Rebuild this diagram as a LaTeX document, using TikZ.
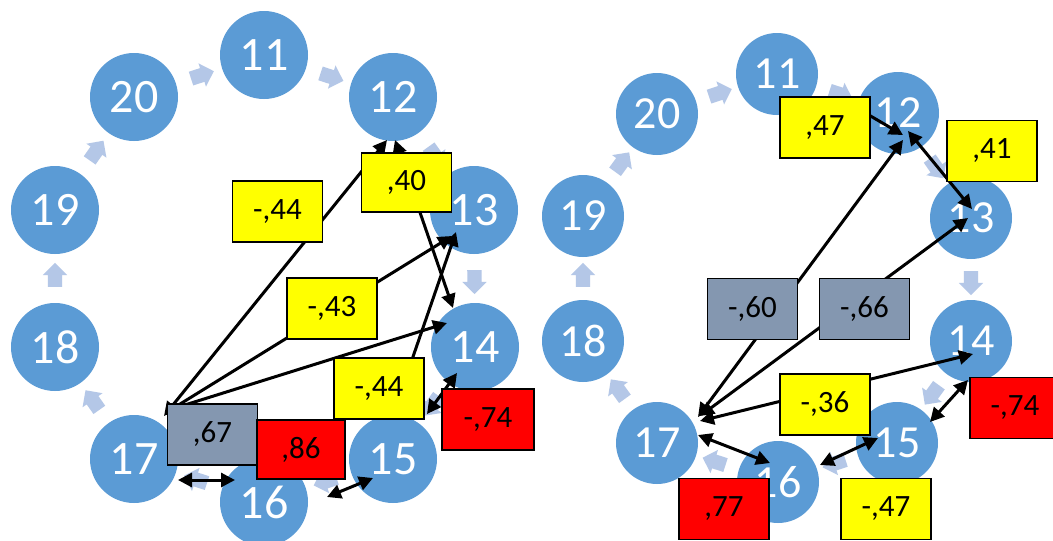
\documentclass[tikz,border=0pt]{standalone}
\usepackage{fontspec}
\setmainfont{Carlito}
\usetikzlibrary{shapes.arrows,arrows.meta,calc}
\definecolor{circblue}{HTML}{5B9BD5}
\definecolor{ringarrow}{HTML}{B4C7E7}
\definecolor{boxyellow}{HTML}{FFFF00}
\definecolor{boxred}{HTML}{FF0000}
\definecolor{boxgray}{HTML}{8497B0}
\newcommand{\circfont}{\fontsize{48pt}{48pt}\selectfont}
\newcommand{\rcircfont}{\fontsize{46pt}{46pt}\selectfont}
\newcommand{\lblfont}{\fontsize{31pt}{31pt}\selectfont}
\begin{document}
\begin{tikzpicture}[x=1pt,y=-1pt,
  circ/.style={circle,fill=circblue,minimum size=88pt,inner sep=0pt,text=white,font=\circfont},
  rcirc/.style={circ,minimum size=82pt,font=\rcircfont},
  ringarr/.style={single arrow,fill=ringarrow,minimum height=24pt,inner xsep=0pt,inner ysep=7pt,single arrow head extend=5pt},
  lbl/.style={draw=black,line width=1.3pt,minimum width=90pt,minimum height=61pt,inner sep=0pt,text=black,font=\lblfont},
  ylbl/.style={lbl,fill=boxyellow},
  rlbl/.style={lbl,fill=boxred},
  glbl/.style={lbl,fill=boxgray},
  conn/.style={line width=3pt,draw=black},
  >={Triangle[length=14pt,width=14pt]}
]
\useasboundingbox (0,0) rectangle (1053,541);
\fill[white] (0,0) rectangle (1053,541);

% ---------- left cycle ----------
\node[circ] (L11) at (264,55) {11};
\node[circ] (L12) at (393,97) {12};
\node[circ] (L13) at (474,210) {13};
\node[circ] (L14) at (475,347) {14};
\node[circ] (L15) at (393,459) {15};
\node[circ] (L16) at (264,502) {16};
\node[circ] (L17) at (134,459) {17};
\node[circ] (L18) at (55,347) {18};
\node[circ] (L19) at (55,210) {19};
\node[circ] (L20) at (134,97) {20};

% ---------- right cycle ----------
\node[rcirc] (R11) at (777,74) {11};
\node[rcirc] (R12) at (898,113) {12};
\node[rcirc] (R13) at (971,218) {13};
\node[rcirc] (R14) at (971,341) {14};
\node[rcirc] (R15) at (897,443) {15};
\node[rcirc] (R16) at (778,482) {16};
\node[rcirc] (R17) at (657,443) {17};
\node[rcirc] (R18) at (583,341) {18};
\node[rcirc] (R19) at (583,216) {19};
\node[rcirc] (R20) at (657,114) {20};

% ring arrows
\foreach \s in {L,R}{
  \foreach \a/\b in {20/11,11/12,12/13,13/14,14/15,15/16,16/17,17/18,18/19,19/20}{
    \path let \p1=($(\s\b)-(\s\a)$), \n1={atan2(\y1,\x1)} in
      ($(\s\a)!0.5!(\s\b)$) node[ringarr,rotate=\n1] (ra\s\a) {};
  }
}

% ---------- left connectors ----------
\coordinate (LH) at ($(L17)+(38,-50)$);
\draw[conn,<->] ($(L17)+(30,-43)$) -- ($(L12)+(-6,43)$);
\draw[conn,->] (LH) -- ($(L13)+(-22,26)$);
\draw[conn,->] (LH) -- ($(L14)+(-28,-24)$);
\draw[conn,<->] ($(L12)+(2,43)$) -- ($(L14)+(-22,-39)$);
\draw[conn,->] (L15.north) -- ($(L13)+(-18,22)$);
\draw[conn,<->] ($(L15)+(34,-45)$) -- ($(L14)+(-18,26)$);
\draw[conn,<->] ($(L17)+(44,21)$) -- ($(L16)+(-29,-22)$);
\draw[conn,<->] ($(L16)+(63,-5)$) -- ($(L15)+(-20,19)$);

% ---------- right connectors ----------
\coordinate (RS) at ($(R11)+(73,30)$);
\draw[conn,->] (RS) -- ($(R12)+(5,22)$);
\draw[conn,<->] ($(R12)+(10,18)$) -- ($(R13)+(1,-9)$);
\draw[conn,<->] ($(R17)+(41,-26)$) -- ($(R12)+(5,27)$);
\draw[conn,<->] ($(R17)+(43,-27)$) -- ($(R13)+(-3,0)$);
\draw[conn,<->] ($(R17)+(43,-22)$) -- ($(R14)+(2,13)$);
\draw[conn,<->] ($(R17)+(41,-8)$) -- ($(R16)+(-8,-19)$);
\draw[conn,<->] ($(R16)+(42,-17)$) -- ($(R15)+(-19,-5)$);
\draw[conn,<->] ($(R14)+(-3,39)$) -- ($(R15)+(33,-21)$);

% ---------- left labels ----------
\node[ylbl] (bL1) at (277.5,211.5) {-,44};
\node[ylbl,minimum height=59pt] (bL2) at (406.5,182.5) {,40};
\node[ylbl] (bL3) at (332,308.5) {-,43};
\node[ylbl] (bL4) at (379,388.5) {-,44};
\node[glbl] (bL5) at (212.5,434.5) {,67};
\node[rlbl,minimum width=88pt,minimum height=59pt] (bL6) at (301,449.5) {,86};
\node[rlbl,minimum width=92pt] (bL7) at (488,419.5) {-,74};

% ---------- right labels ----------
\node[ylbl] (bR1) at (825,127.5) {,47};
\node[ylbl] (bR2) at (992,151) {,41};
\node[glbl] (bR3) at (752.5,309) {-,60};
\node[glbl] (bR4) at (864.5,309) {-,66};
\node[ylbl] (bR5) at (825,404.5) {-,36};
\node[rlbl] (bR6) at (1015,408) {-,74};
\node[rlbl] (bR7) at (724,509) {,77};
\node[ylbl] (bR8) at (886,509) {-,47};
\end{tikzpicture}
\end{document}
